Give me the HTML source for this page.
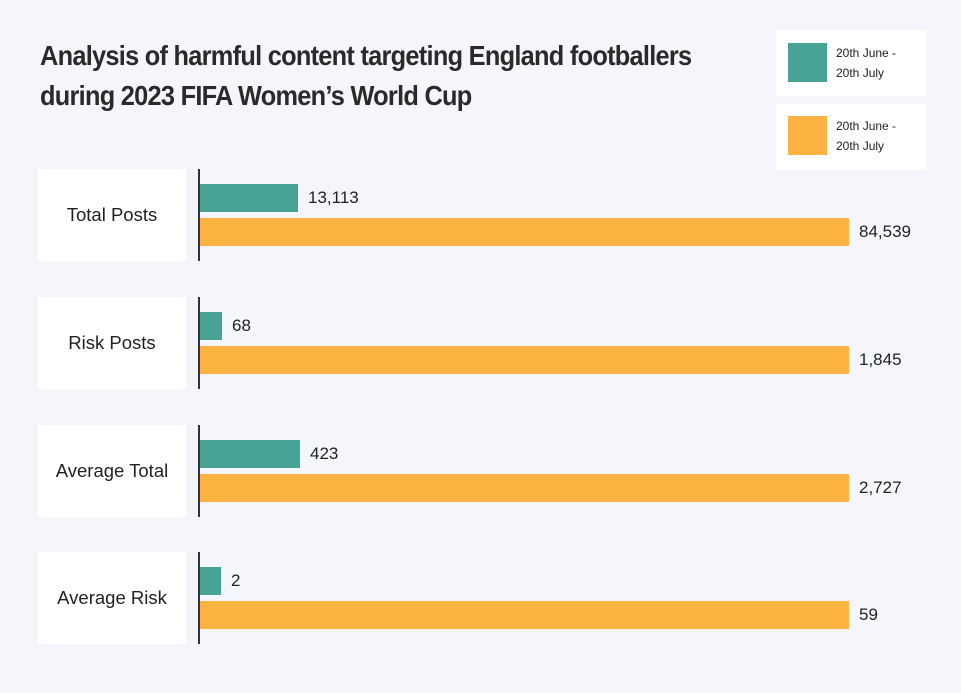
<!DOCTYPE html><html><head><style>
body{margin:0;width:961px;height:693px;background:#f4f6fb;position:relative;overflow:hidden;font-family:"Liberation Sans",sans-serif;color:#222}
.t{position:absolute;left:40px;top:36px;font-family:"Liberation Sans Narrow","Liberation Sans",sans-serif;font-weight:bold;font-size:28px;line-height:40px;letter-spacing:-0.8px;color:#2a2a2a;transform:scaleX(0.905);transform-origin:left}
.b{position:absolute;background:#fff}
.a{position:absolute;width:2px;background:#333}
.g{position:absolute;background:#48a397}
.o{position:absolute;background:#fdb341}
.v{position:absolute;font-size:17px;line-height:20px}
.l{position:absolute;font-size:18.5px;display:flex;align-items:center;justify-content:center;width:148px;height:92px;background:#fff;left:38px}
.lt{position:absolute;left:836px;font-size:12px;line-height:20px}
</style></head><body>
<div class="t">Analysis of harmful content targeting England footballers<br>during 2023 FIFA Women’s World Cup</div>
<div class="b" style="left:776px;top:30px;width:150px;height:66px"></div>
<div class="b" style="left:776px;top:104px;width:150px;height:66px"></div>
<div class="g" style="left:788px;top:43px;width:39px;height:39px"></div>
<div class="o" style="left:788px;top:116px;width:39px;height:39px"></div>
<div class="lt" style="top:43px">20th June -<br>20th July</div>
<div class="lt" style="top:116px">20th June -<br>20th July</div>

<div class="l" style="top:169px">Total Posts</div>
<div class="a" style="left:198px;top:169px;height:92px"></div>
<div class="g" style="left:200px;top:184px;width:98px;height:28px"></div>
<div class="v" style="left:308px;top:188px">13,113</div>
<div class="o" style="left:200px;top:218px;width:649px;height:28px"></div>
<div class="v" style="left:859px;top:222px">84,539</div>

<div class="l" style="top:297px">Risk Posts</div>
<div class="a" style="left:198px;top:297px;height:92px"></div>
<div class="g" style="left:200px;top:312px;width:22px;height:28px"></div>
<div class="v" style="left:232px;top:316px">68</div>
<div class="o" style="left:200px;top:346px;width:649px;height:28px"></div>
<div class="v" style="left:859px;top:350px">1,845</div>

<div class="l" style="top:425px">Average Total</div>
<div class="a" style="left:198px;top:425px;height:92px"></div>
<div class="g" style="left:200px;top:440px;width:100px;height:28px"></div>
<div class="v" style="left:310px;top:444px">423</div>
<div class="o" style="left:200px;top:474px;width:649px;height:28px"></div>
<div class="v" style="left:859px;top:478px">2,727</div>

<div class="l" style="top:552px">Average Risk</div>
<div class="a" style="left:198px;top:552px;height:92px"></div>
<div class="g" style="left:200px;top:567px;width:21px;height:28px"></div>
<div class="v" style="left:231px;top:571px">2</div>
<div class="o" style="left:200px;top:601px;width:649px;height:28px"></div>
<div class="v" style="left:859px;top:605px">59</div>
</body></html>
